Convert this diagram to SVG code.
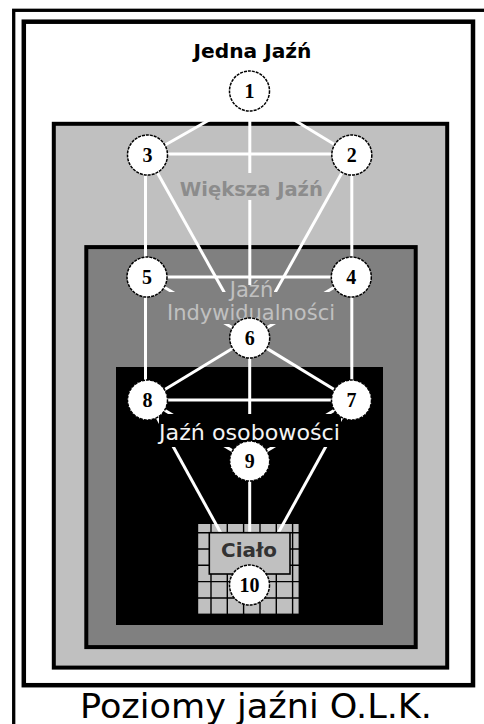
<svg xmlns="http://www.w3.org/2000/svg" width="484" height="724" viewBox="0 0 484 724">
<style>
.node circle{fill:#fff;stroke:#000;stroke-width:1.5;stroke-dasharray:3 1}
.node text{font-family:"Liberation Serif","Times New Roman",serif;font-weight:bold;font-size:20px;text-anchor:middle;fill:#000}
.conn line{stroke:#fff;stroke-width:3;stroke-linecap:butt}
.lbl{font-family:"DejaVu Sans",Verdana,sans-serif;text-anchor:middle}
.grid line{stroke:#000;stroke-width:1.4}
</style>
<rect x="0" y="0" width="484" height="724" fill="#fff"/>
<g id="frames">
<rect x="13.7" y="10.3" width="500" height="800" fill="none" stroke="#000" stroke-width="3.3"/>
<rect x="23.8" y="21.7" width="449.2" height="663.5" fill="#fff" stroke="#000" stroke-width="4.5"/>
<rect x="53.8" y="123.8" width="393.4" height="543.8" fill="#c0c0c0" stroke="#000" stroke-width="4"/>
<rect x="86.3" y="247.1" width="329.4" height="400" fill="#808080" stroke="#000" stroke-width="4"/>
<rect x="116" y="367" width="267" height="258" fill="#000"/>
</g>
<g id="body-grid" class="grid">
<rect x="197.5" y="523.3" width="101.8" height="91" fill="#c0c0c0" stroke="#000" stroke-width="1.4"/>
<line x1="211" y1="523.3" x2="211" y2="614.3"/>
<line x1="227.3" y1="523.3" x2="227.3" y2="614.3"/>
<line x1="243.6" y1="523.3" x2="243.6" y2="614.3"/>
<line x1="260" y1="523.3" x2="260" y2="614.3"/>
<line x1="276.3" y1="523.3" x2="276.3" y2="614.3"/>
<line x1="292.6" y1="523.3" x2="292.6" y2="614.3"/>
<line x1="197.5" y1="532.7" x2="299.3" y2="532.7"/>
<line x1="197.5" y1="549" x2="299.3" y2="549"/>
<line x1="197.5" y1="565.3" x2="299.3" y2="565.3"/>
<line x1="197.5" y1="581.6" x2="299.3" y2="581.6"/>
<line x1="197.5" y1="598" x2="299.3" y2="598"/>
</g>
<g id="connectors" class="conn">
<line x1="218" y1="115" x2="147.5" y2="155"/>
<line x1="286" y1="115" x2="351.8" y2="155"/>
<line x1="249.8" y1="91" x2="249.8" y2="338"/>
<line x1="147.5" y1="154" x2="351.8" y2="154"/>
<line x1="145.5" y1="155" x2="145.5" y2="400"/>
<line x1="351.8" y1="155" x2="351.8" y2="400"/>
<line x1="147.5" y1="155" x2="249.7" y2="338"/>
<line x1="351.8" y1="155" x2="249.7" y2="338"/>
<line x1="147" y1="277" x2="351.3" y2="277"/>
<line x1="147" y1="277" x2="249.7" y2="338"/>
<line x1="351.3" y1="277" x2="249.7" y2="338"/>
<line x1="249.7" y1="338" x2="147.5" y2="400"/>
<line x1="249.7" y1="338" x2="351.5" y2="400"/>
<line x1="249.7" y1="338" x2="249.7" y2="585"/>
<line x1="147.5" y1="400" x2="351.5" y2="400"/>
<line x1="147.5" y1="400" x2="249.7" y2="461"/>
<line x1="351.5" y1="400" x2="249.7" y2="461"/>
<line x1="147.5" y1="400" x2="249.5" y2="585"/>
<line x1="351.5" y1="400" x2="249.5" y2="585"/>
</g>
<g id="labels">
<text class="lbl" x="252.5" y="58" font-size="19" font-weight="bold" textLength="118" lengthAdjust="spacingAndGlyphs" fill="#000">Jedna Jaźń</text>
<rect x="178" y="173" width="145" height="27" fill="#c0c0c0"/>
<text class="lbl" x="251.3" y="196" font-size="19.5" font-weight="bold" textLength="143" lengthAdjust="spacingAndGlyphs" fill="#8c8c8c">Większa Jaźń</text>
<rect x="226" y="285" width="48" height="10" fill="#808080"/>
<rect x="163" y="292" width="174" height="32" fill="#808080"/>
<text class="lbl" x="251.5" y="297" font-size="21" fill="#c0c0c0">Jaźń</text>
<text class="lbl" x="251" y="320" font-size="21" textLength="168" lengthAdjust="spacingAndGlyphs" fill="#c0c0c0">Indywidualności</text>
<rect x="159" y="414" width="182" height="33" fill="#000"/>
<text class="lbl" x="249.5" y="440" font-size="21" textLength="181" lengthAdjust="spacingAndGlyphs" fill="#f4f4f4">Jaźń osobowości</text>
<text class="lbl" x="256" y="718" font-size="34" textLength="352" lengthAdjust="spacingAndGlyphs" fill="#000">Poziomy jaźni O.L.K.</text>
</g>
<g id="node1" class="node"><circle cx="249.5" cy="91" r="20"/><text x="249.5" y="97.5">1</text></g>
<g id="node2" class="node"><circle cx="351.8" cy="155" r="20"/><text x="351.8" y="161.5">2</text></g>
<g id="node3" class="node"><circle cx="147.5" cy="155" r="20"/><text x="147.5" y="161.5">3</text></g>
<g id="node4" class="node"><circle cx="351.3" cy="277" r="20"/><text x="351.3" y="283.5">4</text></g>
<g id="node5" class="node"><circle cx="147" cy="277" r="20"/><text x="147" y="283.5">5</text></g>
<g id="node6" class="node"><circle cx="249.7" cy="338" r="20"/><text x="249.7" y="344.5">6</text></g>
<g id="node7" class="node"><circle cx="351.5" cy="400" r="20"/><text x="351.5" y="406.5">7</text></g>
<g id="node8" class="node"><circle cx="147.5" cy="400" r="20"/><text x="147.5" y="406.5">8</text></g>
<g id="node9" class="node"><circle cx="249.7" cy="461" r="20"/><text x="249.7" y="467.5">9</text></g>
<g id="node10" class="node">
<rect x="209.3" y="532.7" width="80.7" height="41.3" fill="#c0c0c0" stroke="#000" stroke-width="1.6"/>
<text x="249" y="557" style="font-family:'DejaVu Sans',Verdana,sans-serif;font-size:19px;fill:#333" textLength="56" lengthAdjust="spacingAndGlyphs">Ciało</text>
<circle cx="249.5" cy="585" r="20"/><text x="249.5" y="591.5">10</text>
</g>
</svg>
